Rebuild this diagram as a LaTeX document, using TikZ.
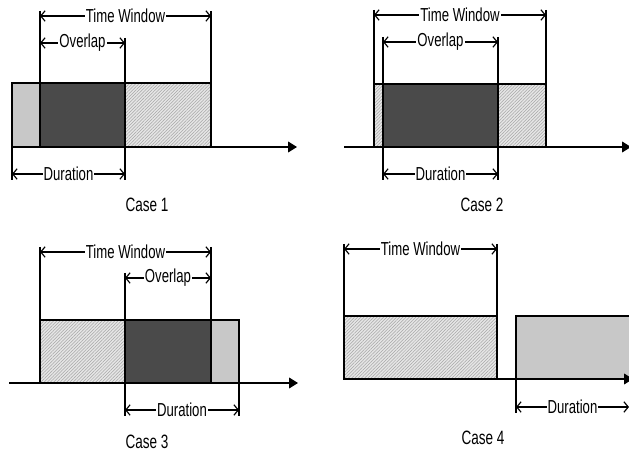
\documentclass[tikz,border=0pt]{standalone}
\usepackage{fontspec}
\setmainfont{Liberation Sans}[FakeStretch=0.7]
\usepackage{tikz}
\usetikzlibrary{arrows.meta,patterns.meta}
\definecolor{boxlight}{HTML}{C8C8C8}
\definecolor{boxdark}{HTML}{4A4A4A}
\definecolor{boxhatch}{HTML}{E6E6E6}

\begin{document}
\begin{tikzpicture}[x=0.02cm, y=-0.02cm,
  lightbox/.style={draw=black, line width=0.85pt, fill=boxlight},
  darkbox/.style={draw=black, line width=0.85pt, fill=boxdark},
  hatchbox/.style={draw=black, line width=0.85pt, preaction={fill=boxhatch},
    pattern={Lines[angle=45,distance=1.3pt,line width=0.3pt]}, pattern color=gray!70},
  axisline/.style={line width=0.85pt, -{Triangle[length=5pt,width=6pt]}},
  extline/.style={line width=0.65pt},
  dimline/.style={line width=0.65pt, {Straight Barb[length=2.5pt,width=6pt]}-{Straight Barb[length=2.5pt,width=6pt]}},
  dimlabel/.style={fill=white, inner sep=0.6pt, font=\fontsize{10.7}{12}\selectfont},
  caselabel/.style={font=\fontsize{11}{13}\selectfont},
]
\useasboundingbox (0,0) rectangle (629,452);
\clip (0,0) rectangle (629,452);

% Case 1: duration starts before the window
\draw[lightbox] (12,83) rectangle (40,147);
\draw[darkbox] (40,83) rectangle (125,147);
\draw[hatchbox] (125,83) rectangle (211,147);
\draw[axisline] (12,147) -- (297,147);
\draw[extline] (40,11) -- (40,83);
\draw[extline] (211,11) -- (211,83);
\draw[extline] (125,38) -- (125,180);
\draw[extline] (12,147) -- (12,180);
\coordinate (c1twl) at (40,16);  \coordinate (c1twr) at (211,16);
\coordinate (c1ovl) at (40,43);  \coordinate (c1ovr) at (125,43);
\coordinate (c1dul) at (12,174); \coordinate (c1dur) at (125,174);
\draw[dimline] (c1twl) -- node[dimlabel] (c1tw) {Time Window} (c1twr);
\draw[dimline] (c1ovl) -- node[dimlabel] (c1ov) {Overlap} (c1ovr);
\draw[dimline] (c1dul) -- node[dimlabel] (c1du) {Duration} (c1dur);
\node[caselabel] (case1) at (147,205) {Case 1};

% Case 2: duration inside the window
\draw[hatchbox] (374,84) rectangle (546,147);
\draw[darkbox] (383,84) rectangle (498,147);
\draw[axisline] (344,147) -- (631,147);
\draw[extline] (374,10) -- (374,84);
\draw[extline] (546,10) -- (546,84);
\draw[extline] (383,37) -- (383,180);
\draw[extline] (498,37) -- (498,180);
\coordinate (c2twl) at (374,15);  \coordinate (c2twr) at (546,15);
\coordinate (c2ovl) at (383,42);  \coordinate (c2ovr) at (498,42);
\coordinate (c2dul) at (383,174); \coordinate (c2dur) at (498,174);
\draw[dimline] (c2twl) -- node[dimlabel] (c2tw) {Time Window} (c2twr);
\draw[dimline] (c2ovl) -- node[dimlabel] (c2ov) {Overlap} (c2ovr);
\draw[dimline] (c2dul) -- node[dimlabel] (c2du) {Duration} (c2dur);
\node[caselabel] (case2) at (482,205) {Case 2};

% Case 3: duration ends after the window
\draw[hatchbox] (40,320) rectangle (125,383);
\draw[darkbox] (125,320) rectangle (211,383);
\draw[lightbox] (211,320) rectangle (239,383);
\draw[axisline] (9,383) -- (298,383);
\draw[extline] (40,247) -- (40,320);
\draw[extline] (211,247) -- (211,320);
\draw[extline] (125,273) -- (125,416);
\draw[extline] (239,383) -- (239,416);
\coordinate (c3twl) at (40,252);  \coordinate (c3twr) at (211,252);
\coordinate (c3ovl) at (125,278); \coordinate (c3ovr) at (211,278);
\coordinate (c3dul) at (125,410); \coordinate (c3dur) at (239,410);
\draw[dimline] (c3twl) -- node[dimlabel] (c3tw) {Time Window} (c3twr);
\draw[dimline] (c3ovl) -- node[dimlabel] (c3ov) {Overlap} (c3ovr);
\draw[dimline] (c3dul) -- node[dimlabel] (c3du) {Duration} (c3dur);
\node[caselabel] (case3) at (147,442) {Case 3};

% Case 4: no overlap
\draw[hatchbox] (344,316) rectangle (497,379);
\draw[lightbox] (516,316) rectangle (660,379);
\draw[axisline] (344,379) -- (633,379);
\draw[extline] (344,244) -- (344,316);
\draw[extline] (497,244) -- (497,316);
\draw[extline] (516,379) -- (516,413);
\coordinate (c4twl) at (344,249); \coordinate (c4twr) at (497,249);
\coordinate (c4dul) at (516,407); \coordinate (c4dur) at (629,407);
\draw[dimline] (c4twl) -- node[dimlabel] (c4tw) {Time Window} (c4twr);
\draw[dimline] (c4dul) -- node[dimlabel] (c4du) {Duration} (c4dur);
\node[caselabel] (case4) at (483,438) {Case 4};
\end{tikzpicture}
\end{document}
